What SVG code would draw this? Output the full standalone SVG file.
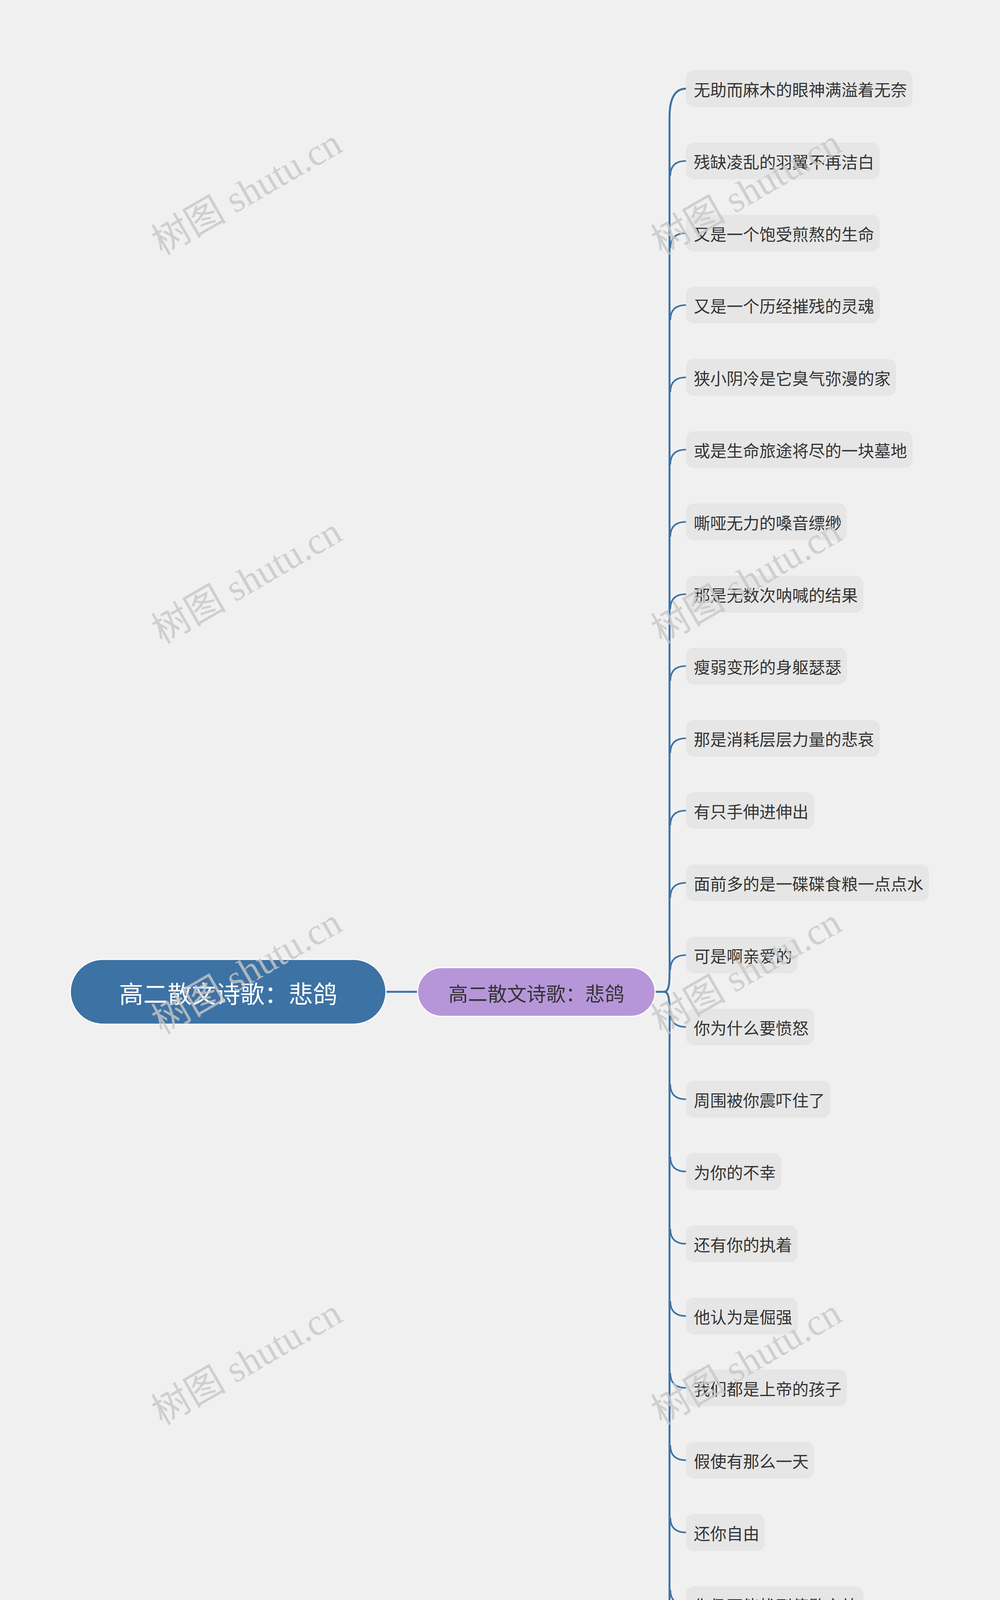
<svg xmlns="http://www.w3.org/2000/svg" width="2560" height="5078" viewBox="0 0 2560 5078">
<style>
.leaf rect{fill:#e6e6e6}
.leaf text{font-family:"Noto Sans CJK SC","Liberation Sans",sans-serif;font-size:42px;fill:#333;dominant-baseline:central}
.wm{font-family:"Liberation Serif","Noto Sans CJK SC",serif;font-size:96px;fill:#c8c8c8;opacity:.8;text-anchor:middle}
#links path{fill:none;stroke:#3d72a4;stroke-width:5}
</style>
<rect width="2560" height="5078" fill="#f0f0f0"/>
<g id="links">
<path d="M988 2539 L1069 2539"/>
<path d="M1677 2539 L1700 2539"/>
</g>
<g id="root"><rect x="180" y="2456" width="808" height="166" rx="83" fill="#3d72a4" stroke="#fff" stroke-width="3"/>
<text x="584" y="2541" text-anchor="middle" dominant-baseline="central" font-family="Noto Sans CJK SC,Liberation Sans,sans-serif" font-size="62" fill="#fff">高二散文诗歌：悲鸽</text></g>
<g id="sub"><rect x="1069" y="2477" width="608" height="125" rx="62" fill="#b696d9" stroke="#fff" stroke-width="3"/>
<text x="1373" y="2541" text-anchor="middle" dominant-baseline="central" font-family="Noto Sans CJK SC,Liberation Sans,sans-serif" font-size="50" fill="#333">高二散文诗歌：悲鸽</text></g>
<g id="leaves"></g>
<g id="links2" fill="none" stroke="#3d72a4" stroke-width="5">
<path d="M1700 2539 C1718 2539 1714 2500 1714 2400 L1714 300 Q1714 227 1756 227"/>
<path d="M1700 2539 C1718 2539 1714 2580 1714 2680 L1714 4770 Q1714 4847 1756 4847"/>
</g>
<g id="n1" class="leaf"><rect x="1756" y="180" width="580" height="94" rx="20"/><text x="1776" y="227">无助而麻木的眼神满溢着无奈</text></g>
<g id="n2" class="leaf"><rect x="1756" y="365" width="496" height="94" rx="20"/><text x="1776" y="412">残缺凌乱的羽翼不再洁白</text></g>
<g id="n3" class="leaf"><rect x="1756" y="550" width="496" height="94" rx="20"/><text x="1776" y="597">又是一个饱受煎熬的生命</text></g>
<g id="n4" class="leaf"><rect x="1756" y="734" width="496" height="94" rx="20"/><text x="1776" y="781">又是一个历经摧残的灵魂</text></g>
<g id="n5" class="leaf"><rect x="1756" y="919" width="538" height="94" rx="20"/><text x="1776" y="966">狭小阴冷是它臭气弥漫的家</text></g>
<g id="n6" class="leaf"><rect x="1756" y="1104" width="580" height="94" rx="20"/><text x="1776" y="1151">或是生命旅途将尽的一块墓地</text></g>
<g id="n7" class="leaf"><rect x="1756" y="1289" width="412" height="94" rx="20"/><text x="1776" y="1336">嘶哑无力的嗓音缥缈</text></g>
<g id="n8" class="leaf"><rect x="1756" y="1474" width="454" height="94" rx="20"/><text x="1776" y="1521">那是无数次呐喊的结果</text></g>
<g id="n9" class="leaf"><rect x="1756" y="1658" width="412" height="94" rx="20"/><text x="1776" y="1705">瘦弱变形的身躯瑟瑟</text></g>
<g id="n10" class="leaf"><rect x="1756" y="1843" width="496" height="94" rx="20"/><text x="1776" y="1890">那是消耗层层力量的悲哀</text></g>
<g id="n11" class="leaf"><rect x="1756" y="2028" width="328" height="94" rx="20"/><text x="1776" y="2075">有只手伸进伸出</text></g>
<g id="n12" class="leaf"><rect x="1756" y="2213" width="622" height="94" rx="20"/><text x="1776" y="2260">面前多的是一碟碟食粮一点点水</text></g>
<g id="n13" class="leaf"><rect x="1756" y="2398" width="286" height="94" rx="20"/><text x="1776" y="2445">可是啊亲爱的</text></g>
<g id="n14" class="leaf"><rect x="1756" y="2582" width="328" height="94" rx="20"/><text x="1776" y="2629">你为什么要愤怒</text></g>
<g id="n15" class="leaf"><rect x="1756" y="2767" width="370" height="94" rx="20"/><text x="1776" y="2814">周围被你震吓住了</text></g>
<g id="n16" class="leaf"><rect x="1756" y="2952" width="244" height="94" rx="20"/><text x="1776" y="2999">为你的不幸</text></g>
<g id="n17" class="leaf"><rect x="1756" y="3137" width="286" height="94" rx="20"/><text x="1776" y="3184">还有你的执着</text></g>
<g id="n18" class="leaf"><rect x="1756" y="3322" width="286" height="94" rx="20"/><text x="1776" y="3369">他认为是倔强</text></g>
<g id="n19" class="leaf"><rect x="1756" y="3506" width="412" height="94" rx="20"/><text x="1776" y="3553">我们都是上帝的孩子</text></g>
<g id="n20" class="leaf"><rect x="1756" y="3691" width="328" height="94" rx="20"/><text x="1776" y="3738">假使有那么一天</text></g>
<g id="n21" class="leaf"><rect x="1756" y="3876" width="202" height="94" rx="20"/><text x="1776" y="3923">还你自由</text></g>
<g id="n22" class="leaf"><rect x="1756" y="4061" width="454" height="94" rx="20"/><text x="1776" y="4108">你仍不能找到停歇之处</text></g>
<g id="n23" class="leaf"><rect x="1756" y="4246" width="412" height="94" rx="20"/><text x="1776" y="4293">仍将受到同伴的讥讽</text></g>
<g id="n24" class="leaf"><rect x="1756" y="4430" width="412" height="94" rx="20"/><text x="1776" y="4477">这本是不愿发生的事</text></g>
<g id="n25" class="leaf"><rect x="1756" y="4615" width="412" height="94" rx="20"/><text x="1776" y="4662">只是因这一切的一切</text></g>
<g id="n26" class="leaf"><rect x="1756" y="4800" width="286" height="94" rx="20"/><text x="1776" y="4847">早已无法挽回</text></g>
<g id="links3" fill="none" stroke="#3d72a4" stroke-width="4">
<path d="M1716 450 Q1716 412 1756 412"/><path d="M1716 635 Q1716 597 1756 597"/><path d="M1716 819 Q1716 781 1756 781"/>
<path d="M1716 1004 Q1716 966 1756 966"/><path d="M1716 1189 Q1716 1151 1756 1151"/><path d="M1716 1374 Q1716 1336 1756 1336"/>
<path d="M1716 1559 Q1716 1521 1756 1521"/><path d="M1716 1743 Q1716 1705 1756 1705"/><path d="M1716 1928 Q1716 1890 1756 1890"/>
<path d="M1716 2113 Q1716 2075 1756 2075"/><path d="M1716 2298 Q1716 2260 1756 2260"/><path d="M1716 2483 Q1716 2445 1756 2445"/>
<path d="M1716 2591 Q1716 2629 1756 2629"/><path d="M1716 2776 Q1716 2814 1756 2814"/><path d="M1716 2961 Q1716 2999 1756 2999"/>
<path d="M1716 3146 Q1716 3184 1756 3184"/><path d="M1716 3331 Q1716 3369 1756 3369"/><path d="M1716 3515 Q1716 3553 1756 3553"/>
<path d="M1716 3700 Q1716 3738 1756 3738"/><path d="M1716 3885 Q1716 3923 1756 3923"/><path d="M1716 4070 Q1716 4108 1756 4108"/>
<path d="M1716 4255 Q1716 4293 1756 4293"/><path d="M1716 4439 Q1716 4477 1756 4477"/><path d="M1716 4624 Q1716 4662 1756 4662"/>
</g>
<g id="watermarks">
<text class="wm" transform="translate(648,520) rotate(-30)">树图 shutu.cn</text>
<text class="wm" transform="translate(1927,520) rotate(-30)">树图 shutu.cn</text>
<text class="wm" transform="translate(648,1515) rotate(-30)">树图 shutu.cn</text>
<text class="wm" transform="translate(1927,1515) rotate(-30)">树图 shutu.cn</text>
<text class="wm" transform="translate(648,2515) rotate(-30)">树图 shutu.cn</text>
<text class="wm" transform="translate(1927,2515) rotate(-30)">树图 shutu.cn</text>
<text class="wm" transform="translate(648,3515) rotate(-30)">树图 shutu.cn</text>
<text class="wm" transform="translate(1927,3515) rotate(-30)">树图 shutu.cn</text>
<text class="wm" transform="translate(648,4510) rotate(-30)">树图 shutu.cn</text>
<text class="wm" transform="translate(1927,4510) rotate(-30)">树图 shutu.cn</text>
</g>
</svg>
